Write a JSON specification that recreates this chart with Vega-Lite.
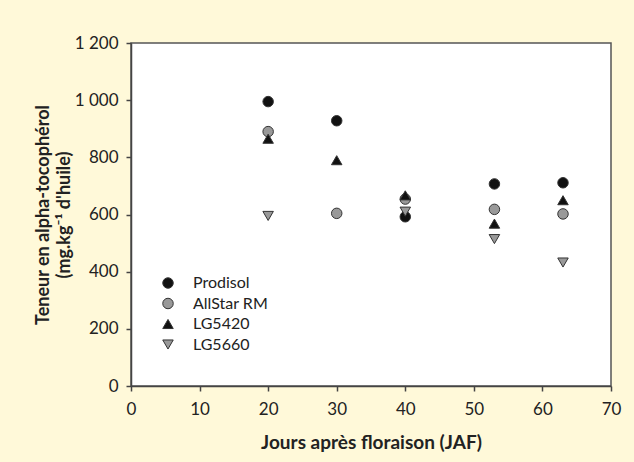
{
  "$schema": "https://vega.github.io/schema/vega-lite/v6.json",
  "autosize": {"type": "none"},
  "width": 480,
  "height": 343,
  "padding": {"left": 131, "top": 43, "right": 23, "bottom": 76},
  "background": "#FFF9D9",
  "data": {
    "values": [
      {"jaf": 20, "variete": "Prodisol", "teneur": 995},
      {"jaf": 30, "variete": "Prodisol", "teneur": 928},
      {"jaf": 40, "variete": "Prodisol", "teneur": 592},
      {"jaf": 53, "variete": "Prodisol", "teneur": 707},
      {"jaf": 63, "variete": "Prodisol", "teneur": 711},
      {"jaf": 20, "variete": "AllStar RM", "teneur": 890},
      {"jaf": 30, "variete": "AllStar RM", "teneur": 604},
      {"jaf": 40, "variete": "AllStar RM", "teneur": 654},
      {"jaf": 53, "variete": "AllStar RM", "teneur": 618},
      {"jaf": 63, "variete": "AllStar RM", "teneur": 602},
      {"jaf": 20, "variete": "LG5420", "teneur": 865},
      {"jaf": 30, "variete": "LG5420", "teneur": 790},
      {"jaf": 40, "variete": "LG5420", "teneur": 667},
      {"jaf": 53, "variete": "LG5420", "teneur": 568},
      {"jaf": 63, "variete": "LG5420", "teneur": 650},
      {"jaf": 20, "variete": "LG5660", "teneur": 595},
      {"jaf": 40, "variete": "LG5660", "teneur": 610},
      {"jaf": 53, "variete": "LG5660", "teneur": 514},
      {"jaf": 63, "variete": "LG5660", "teneur": 432}
    ]
  },
  "mark": {"type": "point", "filled": true, "stroke": "#333333", "strokeWidth": 1, "opacity": 1},
  "encoding": {
    "x": {
      "field": "jaf", "type": "quantitative",
      "scale": {"domain": [0, 70], "nice": false},
      "axis": {
        "title": "Jours après floraison (JAF)",
        "values": [0, 10, 20, 30, 40, 50, 60, 70],
        "grid": false,
        "labelFont": "Lato", "labelFontSize": 17, "labelColor": "#222222",
        "labelPadding": 10, "tickSize": 5, "tickColor": "#444444", "domainColor": "#444444",
        "domainWidth": 1.5, "tickWidth": 1.5,
        "labelFlush": false,
        "titleFont": "Lato", "titleFontSize": 19, "titleFontWeight": "bold", "titleColor": "#222222",
        "titleBaseline": "alphabetic", "titleY": 62
      }
    },
    "y": {
      "field": "teneur", "type": "quantitative",
      "scale": {"domain": [0, 1200], "nice": false},
      "axis": {
        "title": ["Teneur en alpha-tocophérol", "(mg.kg⁻¹ d'huile)"],
        "values": [0, 200, 400, 600, 800, 1000, 1200],
        "labelExpr": "replace(format(datum.value, ','), ',', ' ')",
        "grid": false,
        "labelFont": "Lato", "labelFontSize": 17, "labelColor": "#222222",
        "labelPadding": 8, "tickSize": 5, "tickColor": "#444444", "domainColor": "#444444",
        "domainWidth": 1.5, "tickWidth": 1.5,
        "labelFlush": false,
        "titleFont": "Lato", "titleFontSize": 18, "titleFontWeight": "bold", "titleColor": "#222222",
        "titleBaseline": "bottom", "titleX": -79, "titleLineHeight": 21
      }
    },
    "color": {
      "field": "variete", "type": "nominal", "title": null,
      "scale": {"domain": ["Prodisol", "AllStar RM", "LG5420", "LG5660"], "range": ["#111111", "#999999", "#111111", "#999999"]}
    },
    "shape": {
      "field": "variete", "type": "nominal", "title": null,
      "scale": {"domain": ["Prodisol", "AllStar RM", "LG5420", "LG5660"], "range": ["circle", "circle", "triangle-up", "triangle-down"]}
    },
    "size": {
      "field": "variete", "type": "nominal", "title": null,
      "scale": {"domain": ["Prodisol", "AllStar RM", "LG5420", "LG5660"], "range": [110, 110, 165, 165]}
    }
  },
  "config": {
    "view": {"stroke": "#555555", "strokeWidth": 1.5, "fill": "white"},
    "legend": {
      "orient": "none", "legendX": 29, "legendY": 232, "padding": 0,
      "labelFont": "Lato", "labelFontSize": 16, "labelColor": "#222222",
      "labelOffset": 17, "rowPadding": 4.5, "symbolStrokeWidth": 1, "symbolStrokeColor": "#333333"
    }
  }
}
